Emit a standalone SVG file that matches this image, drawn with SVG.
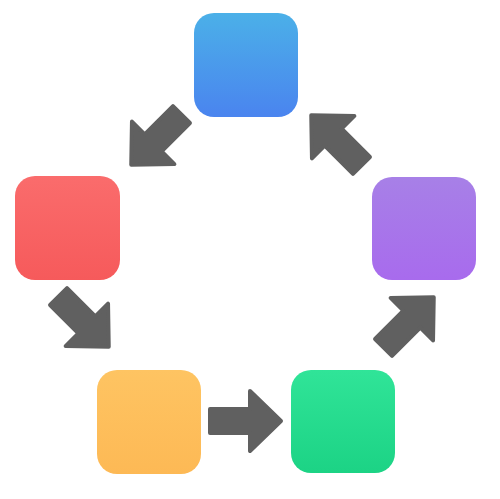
<svg xmlns="http://www.w3.org/2000/svg" width="500" height="499" viewBox="0 0 500 499">
  <defs>
    <linearGradient id="gBlue" x1="0" y1="0" x2="0" y2="1">
      <stop offset="0" stop-color="#4bb0e8"/>
      <stop offset="1" stop-color="#4a84ef"/>
    </linearGradient>
    <linearGradient id="gRed" x1="0" y1="0" x2="0" y2="1">
      <stop offset="0" stop-color="#fa6c6c"/>
      <stop offset="1" stop-color="#f65a5b"/>
    </linearGradient>
    <linearGradient id="gPurple" x1="0" y1="0" x2="0" y2="1">
      <stop offset="0" stop-color="#a780e7"/>
      <stop offset="1" stop-color="#a86bed"/>
    </linearGradient>
    <linearGradient id="gYellow" x1="0" y1="0" x2="0" y2="1">
      <stop offset="0" stop-color="#fec462"/>
      <stop offset="1" stop-color="#fdb955"/>
    </linearGradient>
    <linearGradient id="gGreen" x1="0" y1="0" x2="0" y2="1">
      <stop offset="0" stop-color="#30e498"/>
      <stop offset="1" stop-color="#1cd385"/>
    </linearGradient>
    <path id="arrow" d="M-36,-12 L4,-12 L4,-30 L35,0 L4,30 L4,12 L-36,12 Z"/>
  </defs>
  <style>
    .box { rx: 20px; ry: 20px; }
    .arr { fill: #606060; stroke: #606060; stroke-width: 4; stroke-linejoin: round; }
  </style>
  <rect width="500" height="499" fill="#ffffff"/>
  <g id="node-blue"><rect class="box" x="194" y="13" width="104" height="104" fill="url(#gBlue)"/></g>
  <g id="node-red"><rect class="box" x="15" y="176" width="105" height="104" fill="url(#gRed)"/></g>
  <g id="node-purple"><rect class="box" x="372" y="177" width="104" height="103" fill="url(#gPurple)"/></g>
  <g id="node-yellow"><rect class="box" x="97" y="370" width="104" height="104" fill="url(#gYellow)"/></g>
  <g id="node-green"><rect class="box" x="291" y="370" width="104" height="103" fill="url(#gGreen)"/></g>
  <g id="connectors">
    <use href="#arrow" class="arr" transform="translate(156,140) rotate(135)"/>
    <use href="#arrow" class="arr" transform="translate(84,322) rotate(45)"/>
    <use href="#arrow" class="arr" transform="translate(246,421)"/>
    <use href="#arrow" class="arr" transform="translate(409,322) rotate(-45)"/>
    <use href="#arrow" class="arr" transform="translate(336,140) rotate(-135)"/>
  </g>
</svg>
